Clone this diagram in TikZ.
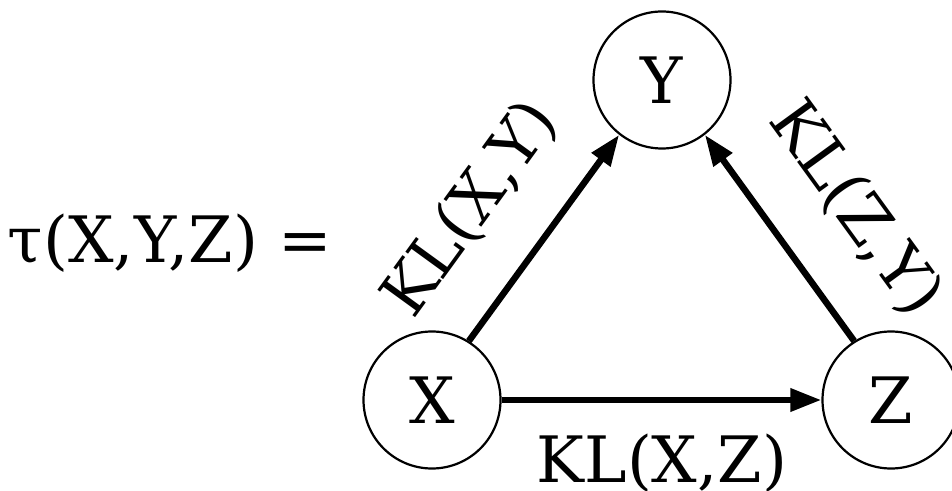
\documentclass[tikz,border=0pt]{standalone}
\usepackage{fontspec}
\setmainfont{DejaVu Serif}
\usetikzlibrary{arrows.meta}
\begin{document}
\begin{tikzpicture}[x=1pt,y=1pt,
  big/.style={font=\fontsize{64}{77}\selectfont},
  var/.style={big,circle,draw,line width=2.2pt,minimum size=137pt,inner sep=0pt},
  edge/.style={line width=6.5pt,-{Triangle[length=31pt,width=22pt]}},
  lab/.style={big,inner sep=0pt}]
\useasboundingbox (0,0) rectangle (952,490);
\clip (0,0) rectangle (952,490);
\node[var] (X) at (432,90) {X};
\node[var] (Y) at (662,410) {Y};
\node[var] (Z) at (891,90) {Z};
\draw[edge] (X) -- (Z);
\draw[edge] (X.58) -- (Y.232);
\draw[edge] (Z.122) -- (Y.308);
\node[lab,anchor=base] (t) at (170,227) {τ(X,Y,Z) =};
\node[lab,anchor=base] (lxz) at (662,8) {KL(X,Z)};
\node[lab,rotate=54] (lxy) at (471,281) {KL(X,Y)};
\node[lab,rotate=-54] (lzy) at (855,281) {KL(Z,Y)};
\end{tikzpicture}
\end{document}
